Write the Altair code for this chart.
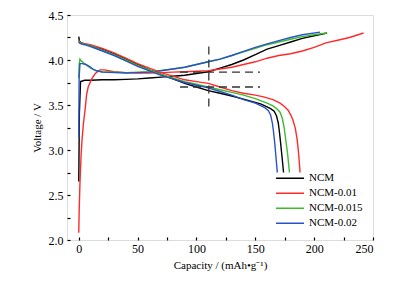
import altair as alt
import pandas as pd

# ---------- data ----------
series_names = ["NCM", "NCM-0.01", "NCM-0.015", "NCM-0.02"]
series_colors = ["#000000", "#ff2a2a", "#3dbb2e", "#2a52c9"]

# charge curves
ncm_c_cap = [0, 0.5, 1.5, 5, 10, 20, 30, 40, 50, 60, 70, 80, 90, 100, 110, 120, 130, 140, 150, 160, 170, 180, 190, 200, 211]
ncm_c_v = [2.65, 3.4, 3.76, 3.775, 3.775, 3.78, 3.78, 3.785, 3.79, 3.80, 3.81, 3.82, 3.83, 3.85, 3.87, 3.91, 3.95, 4.00, 4.06, 4.12, 4.16, 4.20, 4.24, 4.27, 4.30]

r01_c_cap = [0, 0.3, 1, 2, 2.8, 4, 5.3, 6.7, 8, 11, 14, 18, 22, 30, 40, 50, 60, 70, 80, 90, 100, 110, 120, 130, 140, 150, 160, 170, 180, 190, 200, 210, 220, 230, 242]
r01_c_v = [2.08, 2.3, 2.63, 2.95, 3.12, 3.3, 3.44, 3.62, 3.70, 3.79, 3.85, 3.89, 3.89, 3.87, 3.86, 3.855, 3.855, 3.86, 3.865, 3.87, 3.875, 3.88, 3.90, 3.92, 3.95, 3.98, 4.02, 4.05, 4.07, 4.10, 4.14, 4.19, 4.22, 4.25, 4.30]

r015_c_cap = [0, 0.3, 1, 2, 4, 7, 10, 15, 20, 30, 40, 50, 60, 70, 80, 90, 100, 110, 120, 130, 140, 150, 160, 170, 180, 190, 200, 211]
r015_c_v = [3.8, 3.95, 4.01, 3.99, 3.97, 3.94, 3.91, 3.88, 3.87, 3.865, 3.86, 3.865, 3.87, 3.885, 3.90, 3.92, 3.95, 3.98, 4.01, 4.05, 4.09, 4.13, 4.17, 4.20, 4.23, 4.26, 4.28, 4.30]

r02_c_cap = [0, 0.3, 1, 3, 6, 9, 12, 15, 20, 30, 40, 50, 60, 70, 80, 90, 100, 110, 120, 130, 140, 150, 160, 170, 180, 190, 205]
r02_c_v = [3.14, 3.8, 3.96, 3.96, 3.95, 3.93, 3.90, 3.88, 3.865, 3.86, 3.855, 3.86, 3.865, 3.88, 3.90, 3.92, 3.95, 3.98, 4.01, 4.05, 4.095, 4.14, 4.18, 4.215, 4.25, 4.28, 4.31]

# discharge curves
ncm_d_cap = [0, 0.5, 2, 5, 10, 20, 30, 40, 50, 60, 70, 80, 90, 100, 110, 120, 130, 140, 150, 155, 160, 163, 166, 168, 169.5, 170.5, 171.5, 172.5, 174]
ncm_d_v = [4.26, 4.21, 4.19, 4.18, 4.16, 4.12, 4.07, 4.01, 3.95, 3.89, 3.84, 3.79, 3.74, 3.70, 3.66, 3.63, 3.60, 3.565, 3.53, 3.51, 3.48, 3.46, 3.43, 3.38, 3.30, 3.20, 3.08, 2.95, 2.75]

r01_d_cap = [0, 0.5, 2, 5, 10, 20, 30, 40, 50, 60, 70, 80, 90, 100, 110, 120, 130, 140, 150, 157, 165, 171, 175, 178, 180.5, 182, 184, 185.5, 186.5, 187, 188]
r01_d_v = [4.22, 4.20, 4.19, 4.18, 4.17, 4.13, 4.08, 4.02, 3.96, 3.91, 3.86, 3.82, 3.78, 3.76, 3.74, 3.70, 3.66, 3.63, 3.61, 3.59, 3.56, 3.52, 3.48, 3.44, 3.38, 3.33, 3.24, 3.12, 3.00, 2.93, 2.75]

r015_d_cap = [0, 0.5, 2, 5, 10, 20, 30, 40, 50, 60, 70, 80, 90, 100, 110, 120, 130, 140, 150, 160, 165, 169, 171, 173, 174.5, 176, 177.5, 179]
r015_d_v = [4.21, 4.20, 4.185, 4.175, 4.16, 4.11, 4.06, 4.00, 3.94, 3.89, 3.84, 3.80, 3.76, 3.73, 3.70, 3.67, 3.64, 3.61, 3.57, 3.52, 3.49, 3.45, 3.42, 3.35, 3.25, 3.10, 2.95, 2.75]

r02_d_cap = [0, 0.5, 2, 5, 10, 20, 30, 40, 50, 60, 70, 80, 90, 100, 110, 120, 130, 140, 150, 155, 158, 161, 163, 164.5, 165.5, 166.5, 167.5, 168.7]
r02_d_v = [4.20, 4.19, 4.18, 4.17, 4.15, 4.10, 4.05, 3.99, 3.93, 3.88, 3.83, 3.79, 3.75, 3.72, 3.69, 3.65, 3.61, 3.56, 3.52, 3.49, 3.47, 3.44, 3.39, 3.30, 3.20, 3.08, 2.93, 2.75]

# dashed guide lines
dash_id = ["h1", "h1", "h2", "h2", "v", "v"]
dash_cap = [86, 154, 86, 154, 110.5, 110.5]
dash_v = [3.865, 3.865, 3.70, 3.70, 4.15, 3.44]

x_label_values = [0, 50, 100, 150, 200, 250]
x_tick_values = [0, 25, 50, 75, 100, 125, 150, 175, 200, 225, 250]
y_label_values = [2.0, 2.5, 3.0, 3.5, 4.0, 4.5]
y_tick_values = [2.0, 2.25, 2.5, 2.75, 3.0, 3.25, 3.5, 3.75, 4.0, 4.25, 4.5]

# ---------- build table ----------
curves = [
    ("NCM", "charge", ncm_c_cap, ncm_c_v),
    ("NCM-0.01", "charge", r01_c_cap, r01_c_v),
    ("NCM-0.015", "charge", r015_c_cap, r015_c_v),
    ("NCM-0.02", "charge", r02_c_cap, r02_c_v),
    ("NCM", "discharge", ncm_d_cap, ncm_d_v),
    ("NCM-0.01", "discharge", r01_d_cap, r01_d_v),
    ("NCM-0.015", "discharge", r015_d_cap, r015_d_v),
    ("NCM-0.02", "discharge", r02_d_cap, r02_d_v),
]
rows = []
for name, branch, caps, vs in curves:
    for i, (c, v) in enumerate(zip(caps, vs)):
        rows.append({"cap": c, "V": v, "series": name, "curve": name + "_" + branch,
                     "idx": i})
df = pd.DataFrame(rows)
dash_df = pd.DataFrame({"id": dash_id, "cap": dash_cap, "V": dash_v})

FONT = "Liberation Serif"
W, H = 306, 225

xscale = alt.Scale(domain=[-10, 250], nice=False, zero=False)
yscale = alt.Scale(domain=[2.0, 4.5], nice=False, zero=False)

lines = alt.Chart(df).mark_line(strokeWidth=1.4, clip=True).encode(
    x=alt.X("cap:Q", scale=xscale,
            axis=alt.Axis(title="Capacity / (mAh\u2022g\u207b\u00b9)", values=x_label_values,
                          ticks=False, domain=False, grid=False, labelPadding=3,
                          labelFontSize=12, titleFontSize=11, titleFontWeight="normal",
                          labelFont=FONT, titleFont=FONT, titlePadding=5,
                          labelColor="#000", titleColor="#000")),
    y=alt.Y("V:Q", scale=yscale,
            axis=alt.Axis(title="Voltage / V", values=y_label_values, format=".1f",
                          ticks=False, domain=False, grid=False, labelPadding=4,
                          labelFontSize=12, titleFontSize=11, titleFontWeight="normal",
                          labelFont=FONT, titleFont=FONT, titlePadding=6,
                          labelColor="#000", titleColor="#000")),
    color=alt.Color("series:N",
                    scale=alt.Scale(domain=series_names, range=series_colors),
                    legend=alt.Legend(title=None, orient="none", legendX=208, legendY=156,
                                      symbolType="stroke", symbolSize=784, symbolStrokeWidth=1.6,
                                      clipHeight=14.4, rowPadding=0, padding=0,
                                      labelFont=FONT, labelFontSize=11, labelOffset=4,
                                      labelColor="#000")),
    detail="curve:N",
    order="idx:Q",
)

dashes = alt.Chart(dash_df).mark_line(strokeDash=[8, 5], strokeWidth=1.3, color="#333333").encode(
    x=alt.X("cap:Q", scale=xscale,
            axis=alt.Axis(orient="top", offset=-H, values=x_tick_values, labels=False,
                          domain=False, grid=False, title=None, tickSize=3,
                          tickColor="#000", tickWidth=1.2)),
    y=alt.Y("V:Q", scale=yscale,
            axis=alt.Axis(orient="right", offset=-W, values=y_tick_values, labels=False,
                          domain=False, grid=False, title=None, tickSize=3,
                          tickColor="#000", tickWidth=1.2)),
    detail="id:N",
)

chart = alt.layer(lines, dashes).resolve_axis(x="independent", y="independent").properties(
    width=W, height=H,
    autosize=alt.AutoSizeParams(type="none"),
    padding={"left": 59, "top": 7, "right": 30, "bottom": 35},
).configure_view(stroke="#000", strokeWidth=1.3).configure(background="white")

chart.save("out.html", embed_options={"renderer": "svg", "actions": False})
